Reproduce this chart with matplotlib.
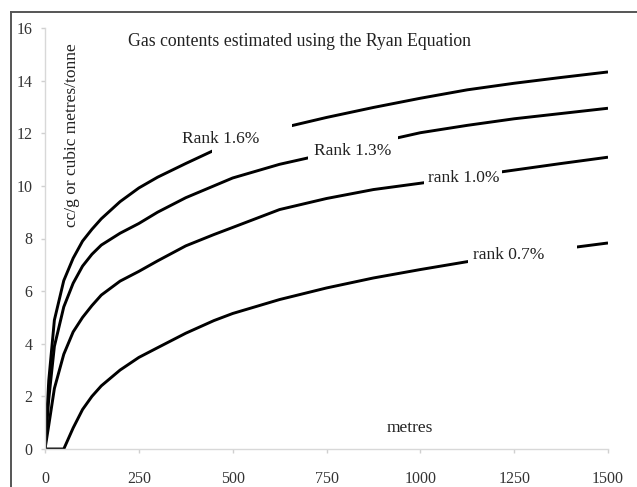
import matplotlib
matplotlib.use("Agg")
import matplotlib.pyplot as plt
from matplotlib.lines import Line2D
from matplotlib.patches import Rectangle

# depth in metres
depth = [0, 10, 25, 50, 75, 100, 125, 150, 200, 250, 300, 375, 450, 500,
         625, 750, 875, 1000, 1125, 1250, 1375, 1500]

# gas content (cc/g) for each rank
rank_16 = [0, 2.6, 4.9, 6.4, 7.25, 7.9, 8.35, 8.75, 9.4, 9.92, 10.33, 10.85, 11.35, 11.62,
           12.18, 12.6, 12.98, 13.33, 13.65, 13.9, 14.12, 14.33]
rank_13 = [0, 1.9, 3.9, 5.4, 6.3, 6.95, 7.4, 7.75, 8.2, 8.57, 9.0, 9.55, 10.0, 10.3,
           10.82, 11.22, 11.62, 12.02, 12.3, 12.55, 12.75, 12.95]
rank_10 = [0, 0.9, 2.3, 3.6, 4.45, 5.0, 5.45, 5.85, 6.38, 6.75, 7.15, 7.72, 8.15, 8.42,
           9.1, 9.52, 9.86, 10.1, 10.35, 10.6, 10.85, 11.09]
rank_07 = [0, 0, 0, 0, 0.8, 1.5, 2.0, 2.4, 3.0, 3.48, 3.85, 4.4, 4.88, 5.15,
           5.68, 6.12, 6.5, 6.82, 7.12, 7.35, 7.6, 7.83]

series = [rank_16, rank_13, rank_10, rank_07]

# curve labels: text, text position, white box behind (x0, x1, y0, y1)
labels = [
    ("Rank 1.6%", (469, 11.78), (444, 658, 11.1, 12.5)),
    ("Rank 1.3%", (821, 11.33), (701, 941, 10.87, 12.05)),
    ("rank 1.0%", (1116, 10.3), (1010, 1218, 9.84, 10.76)),
    ("rank 0.7%", (1236, 7.37), (1127, 1418, 6.88, 7.83)),
]

plt.rcParams["font.family"] = ["Liberation Serif", "DejaVu Serif"]

W, H = 637, 487
fig = plt.figure(figsize=(W / 100, H / 100), dpi=100)
fig.patch.set_facecolor("white")

ax = fig.add_axes([45 / W, (H - 449) / H, (608 - 45) / W, (449 - 28) / H])

for vals in series:
    ax.plot(depth, vals, color="black", linewidth=2.1, solid_joinstyle="round",
            solid_capstyle="butt", zorder=2)

for txt, (tx, ty), (x0, x1, y0, y1) in labels:
    ax.add_patch(Rectangle((x0, y0), x1 - x0, y1 - y0, facecolor="white",
                           edgecolor="none", zorder=3))
    ax.text(tx, ty, txt, fontsize=12.5, color="#222222", ha="center", va="center", zorder=4)

ax.set_xlim(0, 1500)
ax.set_ylim(0, 16)
ax.set_xticks([0, 250, 500, 750, 1000, 1250, 1500])
ax.set_yticks(range(0, 17, 2))

for side in ["top", "right"]:
    ax.spines[side].set_visible(False)
for side in ["left", "bottom"]:
    ax.spines[side].set_color("#d8d8d8")
    ax.spines[side].set_linewidth(1.0)

ax.tick_params(axis="both", colors="#d0d0d0", labelcolor="#333333", labelsize=11.5,
               length=3, width=1.0)
ax.tick_params(axis="x", pad=13)
ax.tick_params(axis="y", pad=6)

ax.text((300 - 45) / 563, (449 - 42) / 421, "Gas contents estimated using the Ryan Equation",
        transform=ax.transAxes, ha="center", va="center", fontsize=12.8, color="#222222")
ax.text((72 - 45) / 563, (449 - 135) / 421, "cc/g or cubic metres/tonne",
        transform=ax.transAxes, rotation=90, ha="center", va="center",
        fontsize=12.5, color="#222222")
ax.text((410 - 45) / 563, (449 - 428) / 421, "metres", transform=ax.transAxes,
        ha="center", va="center", fontsize=12.5, color="#222222")

# outer chart frame (only left and top edges are in view)
fig.add_artist(Line2D([11 / W, 11 / W], [0, 1 - 12 / H], color="#555555", linewidth=1.4))
fig.add_artist(Line2D([11 / W, 1], [1 - 12 / H, 1 - 12 / H], color="#555555", linewidth=1.4))

fig.savefig("out.png", dpi=100, facecolor="white")
